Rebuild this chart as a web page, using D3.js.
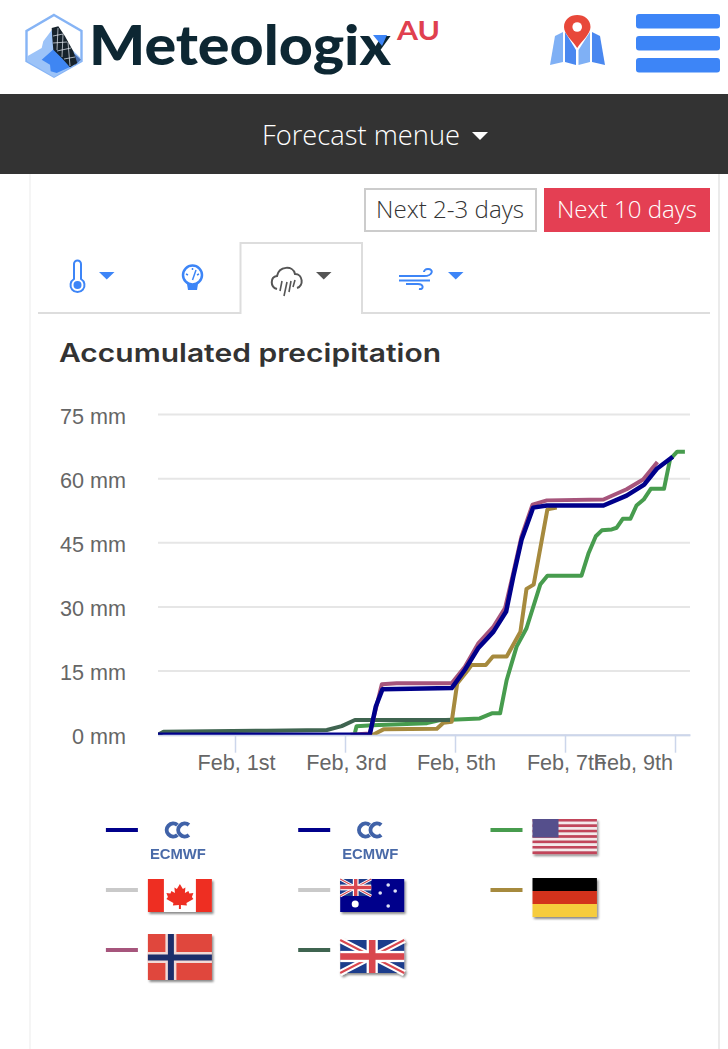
<!DOCTYPE html>
<html lang="en">
<head>
    <meta charset="UTF-8">
    <title>Accumulated precipitation</title>
    <script src="https://cdn.jsdelivr.net/npm/d3@7"></script>
    <style>
        body { margin: 0; background: #fff; }
        svg { display: block; }
    </style>
</head>
<body>
<script type="text/javascript">
    // values: day of February -> accumulated mm
    var ecmwfDays = [-0.4, 3.45, 3.56, 3.68, 4.94, 5.18, 5.42, 5.70, 5.93, 6.06, 6.21, 6.42, 6.67, 7.70, 8.12, 8.44, 8.67, 8.96];
    var ecmwfValues = [0, 0, 6.6, 10.6, 10.9, 15.2, 20.2, 24.1, 28.8, 37, 45.6, 53.1, 53.6, 53.6, 55.9, 58.5, 62.2, 65];

    var norwayDays = [3.1, 3.45, 3.67, 3.94, 4.94, 5.18, 5.42, 5.70, 5.91, 6.06, 6.21, 6.41, 6.67, 7.70, 8.12, 8.42, 8.68];
    var norwayValues = [0, 0.3, 11.8, 12.05, 12.05, 15.9, 21.3, 25.3, 29.6, 37.8, 46.4, 53.8, 54.8, 55, 57.4, 59.7, 63.8];

    var germanyDays = [3.4, 3.51, 3.70, 4.67, 4.79, 4.94, 5.04, 5.24, 5.30, 5.56, 5.69, 5.94, 6.19, 6.30, 6.43, 6.68, 6.85];
    var germanyValues = [0, 0, 1.25, 1.4, 2.8, 3.05, 12, 15.2, 16.3, 16.3, 18.3, 18.3, 24.1, 34.1, 35.1, 52.7, 53.1];

    var usDays = [3.18, 3.21, 3.5, 4.49, 4.73, 5.45, 5.67, 5.82, 5.94, 6.12, 6.30, 6.55, 6.68, 7.30, 7.43, 7.56, 7.67, 7.85, 7.94, 8.05, 8.19, 8.30, 8.43, 8.56, 8.80, 8.91, 9.04, 9.18];
    var usValues = [0.4, 2.0, 2.2, 2.7, 3.4, 3.8, 5, 5, 12.8, 20.6, 24.9, 35.1, 37.2, 37.2, 42.5, 46.4, 47.8, 48, 48.4, 50.5, 50.5, 53.6, 55, 57.5, 57.5, 64.4, 66.2, 66.2];

    var ukDays = [-0.4, -0.3, 1.58, 2.67, 2.94, 3.18, 4.91];
    var ukValues = [0, 0.7, 0.95, 1.1, 2, 3.45, 3.45];

    var yTicks = [0, 15, 30, 45, 60, 75];
    var xTicks = [1, 3, 5, 7, 9];
    var xTickLabels = ['Feb, 1st', 'Feb, 3rd', 'Feb, 5th', 'Feb, 7th', 'Feb, 9th'];

    // legend reads left to right, row by row
    var legendNames = ['ecmwf', 'ecmwf', 'us', 'canada', 'australia', 'germany', 'norway', 'uk'];
    var legendColors = ['#00008b', '#00008b', '#479c4e', '#c9c9c9', '#c9c9c9', '#a68a3e', '#a6557c', '#3f6450'];

    var svg = d3.select('body').append('svg').attr('width', 728).attr('height', 1049);
    var defs = svg.append('defs');

    // soft look of the small legend images
    var soft = defs.append('filter').attr('id', 'soft')
            .attr('x', '-10%').attr('y', '-10%').attr('width', '125%').attr('height', '130%');
    soft.append('feDropShadow').attr('dx', 1.5).attr('dy', 2).attr('stdDeviation', 1.2)
            .attr('flood-color', '#000').attr('flood-opacity', 0.45);
    soft.append('feGaussianBlur').attr('stdDeviation', 0.45);

    var blur = defs.append('filter').attr('id', 'blur');
    blur.append('feGaussianBlur').attr('stdDeviation', 0.6);

    // lines stop at the plot edge, so the zero run shows at half width
    defs.append('clipPath').attr('id', 'plot').append('rect')
            .attr('x', 158).attr('y', 400).attr('width', 532).attr('height', 334.7);

    //页面框架
    svg.append('line').attr('x1', 30).attr('x2', 30).attr('y1', 174).attr('y2', 1049)
            .attr('stroke', '#f2f2f2').attr('stroke-width', 1.5);
    svg.append('line').attr('x1', 719).attr('x2', 719).attr('y1', 174).attr('y2', 1049)
            .attr('stroke', '#e4e4e4').attr('stroke-width', 1.5);

    drawHeader();
    drawTabs();

    svg.append('text').attr('x', 59).attr('y', 362).text('Accumulated precipitation')
            .attr('font-family', 'Inter').attr('font-weight', 600).attr('font-size', 25)
            .attr('textLength', 382).attr('lengthAdjust', 'spacingAndGlyphs').attr('fill', '#333');

    //比例尺
    var xScale = d3.scaleLinear().domain([-0.4, 9.2727]).range([158, 690]);
    var yScale = d3.scaleLinear().domain([0, 75]).range([734.7, 414]);

    var yAxis = d3.axisLeft(yScale).tickValues(yTicks)
            .tickFormat(function (d) { return d + ' mm'; })
            .tickSize(-(690 - 158)).tickPadding(32);
    var yG = svg.append('g').attr('transform', 'translate(158,0)').call(yAxis);
    yG.select('.domain').remove();
    yG.selectAll('line').attr('stroke', '#e6e6e6').attr('stroke-width', 2);
    yG.selectAll('text').attr('font-family', 'Liberation Sans').attr('font-size', 21.6)
            .attr('fill', '#666').attr('dy', '0.42em');

    var xAxis = d3.axisBottom(xScale).tickValues(xTicks)
            .tickFormat(function (d, i) { return xTickLabels[i]; })
            .tickSize(18).tickSizeOuter(0).tickPadding(0);
    var xG = svg.append('g').attr('transform', 'translate(0,734.7)').call(xAxis);
    xG.select('.domain').attr('stroke', '#ccd6eb').attr('stroke-width', 2);
    xG.selectAll('line').attr('stroke', '#ccd6eb').attr('stroke-width', 1.5);
    xG.selectAll('text').attr('font-family', 'Liberation Sans').attr('font-size', 21.6)
            .attr('fill', '#666').attr('dx', 1).attr('y', 20);
    // the last label is pushed back inside the plot, so it runs into Feb, 7th
    xG.selectAll('.tick:last-of-type text').attr('text-anchor', 'end').attr('dx', -2.5);

    //折线
    var line = d3.line()
            .x(function (d) { return xScale(d[0]); })
            .y(function (d) { return yScale(d[1]); });
    var lines = svg.append('g').attr('clip-path', 'url(#plot)');

    drawLine(usDays, usValues, '#479c4e', 4);
    drawLine(germanyDays, germanyValues, '#a68a3e', 4);
    drawLine(ukDays, ukValues, '#3f6450', 4);
    drawLine(norwayDays, norwayValues, '#a6557c', 4);
    drawLine(ecmwfDays, ecmwfValues, '#00008b', 4.5);

    function drawLine(days, values, color, width) {
        lines.append('path').datum(d3.zip(days, values))
                .attr('d', line).attr('fill', 'none').attr('stroke', color)
                .attr('stroke-width', width).attr('stroke-linejoin', 'round');
    }

    // 图例里的小图,原点在图例线的高度
    var flagDrawers = {
        ecmwf: function (g) {
            var f = g.append('g').attr('filter', 'url(#blur)');
            f.append('path').attr('d', 'M29.5,-5 A6.5,6.5 0 1 0 29.5,5 M41,-5 A6.5,6.5 0 1 0 41,5')
                    .attr('fill', 'none').attr('stroke', '#3f62a8').attr('stroke-width', 4);
            f.append('text').attr('x', 30).attr('y', 28.5).attr('text-anchor', 'middle').text('ECMWF')
                    .attr('font-family', 'Liberation Sans').attr('font-weight', 700).attr('font-size', 14.5)
                    .attr('textLength', 56).attr('lengthAdjust', 'spacingAndGlyphs').attr('fill', '#4a6aa8');
        },
        us: function (g) {
            var f = g.append('g').attr('filter', 'url(#soft)');
            d3.range(13).forEach(function (i) {
                bar(f, 0, -11 + i * 2.7, 64.4, 2.7, i % 2 ? '#f5e9ea' : '#c2455a');
            });
            bar(f, 0, -11, 26, 18.5, '#54508c');
        },
        canada: function (g) {
            var f = g.append('g').attr('filter', 'url(#soft)');
            bar(f, 0, -11, 64, 33, '#fff');
            bar(f, 0, -11, 16, 33, '#ee2e22');
            bar(f, 48, -11, 16, 33, '#ee2e22');
            f.append('path').attr('d', 'M32,-6 L35,-1 L37.5,-2.5 L37,3 L40.5,1 L41.5,3.5 L45.5,3 L44,7 L45.5,9 L38.5,13 L39,15.5 L33,15 L33,19 L31,19 L31,15 L25,15.5 L25.5,13 L18.5,9 L20,7 L18.5,3 L22.5,3.5 L23.5,1 L27,3 L26.5,-2.5 L29,-1 Z')
                    .attr('fill', '#ee2e22');
        },
        australia: function (g) {
            var f = g.append('g').attr('filter', 'url(#soft)');
            bar(f, 0, -11, 64, 33, '#00008b');
            unionJack(f, -11, 31, 17);
            f.append('circle').attr('cx', 15).attr('cy', 14).attr('r', 3.5).attr('fill', '#fff');
            [[48, -5], [55, 1], [40, 3], [48, 16]].forEach(function (p) {
                f.append('circle').attr('cx', p[0]).attr('cy', p[1]).attr('r', 1.8).attr('fill', '#dfe3f5');
            });
        },
        germany: function (g) {
            var f = g.append('g').attr('filter', 'url(#soft)');
            bar(f, 0, -12, 64.4, 13, '#000');
            bar(f, 0, 1, 64.4, 13, '#d3301b');
            bar(f, 0, 14, 64.4, 13, '#f6cc3d');
        },
        norway: function (g) {
            var f = g.append('g').attr('filter', 'url(#soft)');
            bar(f, 0, -16, 64, 46, '#e0473c');
            bar(f, 17.5, -16, 11, 46, '#f1d9d6');
            bar(f, 0, 2, 64, 11, '#f1d9d6');
            bar(f, 20, -16, 6, 46, '#1d2f6b');
            bar(f, 0, 4.5, 64, 6, '#1d2f6b');
        },
        uk: function (g) {
            unionJack(g.append('g').attr('filter', 'url(#soft)'), -10, 64, 33);
        }
    };

    function unionJack(g, top, w, h) {
        bar(g, 0, top, w, h, '#1f3d8c');
        var cross = 'M0,' + top + ' L' + w + ',' + (top + h) + ' M' + w + ',' + top + ' L0,' + (top + h);
        g.append('path').attr('d', cross).attr('stroke', '#fff').attr('stroke-width', h * 0.18);
        g.append('path').attr('d', cross).attr('stroke', '#d9474f').attr('stroke-width', h * 0.06);
        bar(g, w / 2 - h * 0.17, top, h * 0.34, h, '#fff');
        bar(g, 0, top + h / 2 - h * 0.17, w, h * 0.34, '#fff');
        bar(g, w / 2 - h * 0.1, top, h * 0.2, h, '#d9474f');
        bar(g, 0, top + h / 2 - h * 0.1, w, h * 0.2, '#d9474f');
    }

    function bar(g, x, y, w, h, color) {
        g.append('rect').attr('x', x).attr('y', y).attr('width', w).attr('height', h).attr('fill', color);
    }

    //图例
    var legendCol = d3.scalePoint().domain([0, 1, 2]).range([105.9, 490.5]);
    var legendRow = d3.scalePoint().domain([0, 1, 2]).range([830, 950]);
    legendNames.forEach(function (name, i) {
        var col = i % 3, row = Math.floor(i / 3);
        var lx = legendCol(col), ly = legendRow(row);
        svg.append('line').attr('x1', lx).attr('x2', lx + 32).attr('y1', ly).attr('y2', ly)
                .attr('stroke', legendColors[i]).attr('stroke-width', 4);
        var g = svg.append('g').attr('transform', 'translate(' + (lx + 42) + ',' + ly + ')');
        flagDrawers[name](g);
    });

    function drawHeader() {
        var logo = svg.append('g');
        logo.append('path').attr('d', 'M54,15 L81.5,31 L81.5,61 L54,76.5 L26.5,61 L26.5,31 Z')
                .attr('fill', '#fff').attr('stroke', '#86b4f5').attr('stroke-width', 2.4);
        logo.append('path').attr('d', 'M53.3,28 L43.3,41.3 L41.7,48 L27.3,56.3 L27.3,61.3 L54,77 L80.7,61.3 L80.7,58 L63.3,41.3 Z')
                .attr('fill', '#9cc3f8');
        logo.append('path').attr('d', 'M70,49.7 L81,59.7 L75,65.3 Z').attr('fill', '#4a70b0');
        logo.append('path').attr('d', 'M41.7,59.7 L55,48 L71.7,66.3 L56.7,73 L50.7,71.3 L50,64.7 Z').attr('fill', '#3f86f3');
        logo.append('path').attr('d', 'M51.7,28 L58.3,26.3 L65,36.3 L73.3,51.3 L77.3,63 L70,67.3 L61.7,58 L53.3,49.7 L52.3,38 Z')
                .attr('fill', '#16222b');
        logo.append('path').attr('d', 'M53,36 L63,34 M53,43 L67,42 M57,51 L71,48 M64,59 L75,57 M58,28 L57,50 M63,34 L62,57 M68,42 L70,66')
                .attr('fill', 'none').attr('stroke', '#e8eef6').attr('stroke-width', 0.7);

        svg.append('text').attr('x', 89).attr('y', 65).text('Meteologix')
                .attr('font-family', 'Lato').attr('font-weight', 900).attr('font-size', 56)
                .attr('textLength', 302).attr('lengthAdjust', 'spacingAndGlyphs').attr('fill', '#0d2733');
        svg.append('path').attr('d', 'M373,35 L387,35 L382,46 Z').attr('fill', '#3d85f7');
        svg.append('text').attr('x', 397).attr('y', 40).text('AU')
                .attr('font-family', 'Lato').attr('font-weight', 700).attr('font-size', 27)
                .attr('textLength', 43).attr('lengthAdjust', 'spacingAndGlyphs').attr('fill', '#e0404f');

        //地图图标
        svg.append('path').attr('d', 'M555,36 L563,32 L563,62 L550,65 Z').attr('fill', '#7fb0f5');
        svg.append('path').attr('d', 'M565,32 L576,50 L576,65 L565,62 Z').attr('fill', '#4a88f0');
        svg.append('path').attr('d', 'M578.5,50 L590,32 L590,62 L578.5,65 Z').attr('fill', '#7fb0f5');
        svg.append('path').attr('d', 'M592,32 L600,36 L605,65 L592,62 Z').attr('fill', '#4a88f0');
        svg.append('path').attr('d', 'M577.2,48 C572,40 564,34 564,27 C564,19.5 570,15 577.2,15 C584.5,15 590.5,19.5 590.5,27 C590.5,34 582.5,40 577.2,48 Z')
                .attr('fill', '#e8483a');
        svg.append('circle').attr('cx', 577.2).attr('cy', 27).attr('r', 4.8).attr('fill', '#fff');

        [14, 36, 58].forEach(function (y) {
            svg.append('rect').attr('x', 636).attr('y', y).attr('width', 84).attr('height', 14.5)
                    .attr('rx', 3).attr('fill', '#3d85f7');
        });

        svg.append('rect').attr('x', 0).attr('y', 94).attr('width', 728).attr('height', 80).attr('fill', '#333');
        svg.append('text').attr('x', 262).attr('y', 145).text('Forecast menue')
                .attr('font-family', 'Open Sans').attr('font-weight', 300).attr('font-size', 27)
                .attr('textLength', 198).attr('lengthAdjust', 'spacingAndGlyphs').attr('fill', '#fff');
        svg.append('path').attr('d', 'M472,132 L488,132 L480,140 Z').attr('fill', '#fff');

        svg.append('rect').attr('x', 365).attr('y', 189).attr('width', 171).attr('height', 42)
                .attr('fill', '#fff').attr('stroke', '#ccc').attr('stroke-width', 2);
        svg.append('text').attr('x', 376).attr('y', 218).text('Next 2-3 days')
                .attr('font-family', 'Open Sans').attr('font-weight', 300).attr('font-size', 24)
                .attr('textLength', 148).attr('lengthAdjust', 'spacingAndGlyphs').attr('fill', '#333');
        svg.append('rect').attr('x', 544).attr('y', 188).attr('width', 166).attr('height', 44).attr('fill', '#e43f53');
        svg.append('text').attr('x', 557).attr('y', 218).text('Next 10 days')
                .attr('font-family', 'Open Sans').attr('font-weight', 300).attr('font-size', 24)
                .attr('textLength', 140).attr('lengthAdjust', 'spacingAndGlyphs').attr('fill', '#fff');
    }

    function drawTabs() {
        svg.append('path').attr('d', 'M38,313 L240.5,313 L240.5,243 L362,243 L362,313 L710,313')
                .attr('fill', 'none').attr('stroke', '#ddd').attr('stroke-width', 2);

        var blue = '#3d85f7';
        //温度计
        svg.append('path').attr('d', 'M74,264 a3.5,3.5 0 0 1 7,0 L81,279 a7,7 0 1 1 -7,0 Z')
                .attr('fill', '#fff').attr('stroke', blue).attr('stroke-width', 2);
        svg.append('circle').attr('cx', 77.5).attr('cy', 285).attr('r', 4).attr('fill', blue);
        caret(99, blue);

        //气压表
        svg.append('circle').attr('cx', 192.5).attr('cy', 275).attr('r', 9.5)
                .attr('fill', '#fff').attr('stroke', blue).attr('stroke-width', 2.5);
        svg.append('path').attr('d', 'M187,284 L198,284 L197,290 L188,290 Z').attr('fill', blue);
        svg.append('path').attr('d', 'M192.5,280 L196,270 M186,274 L188,275 M192.5,268 L192.5,270 M199,274 L197,275')
                .attr('stroke', blue).attr('stroke-width', 1.5).attr('fill', 'none');

        //雨
        svg.append('path').attr('d', 'M277,289 C270,287 270,277 277,276 C279,266 293,265 295,274 C303,274 304,286 297,288')
                .attr('fill', 'none').attr('stroke', '#555').attr('stroke-width', 2);
        svg.append('path').attr('d', 'M282,281 L280,291 M287,282 L284,296 M291,281 L289,292 M295,280 L293,287')
                .attr('fill', 'none').attr('stroke', '#555').attr('stroke-width', 1.6);
        caret(316, '#555');

        //风
        svg.append('path').attr('d', 'M399,276 L424,276 C433,276 434,269 428,269 C425,269 424,271 424,272 M399,280.5 L430,280.5 M406,284 L418,284 C424,284 424,290 419,289')
                .attr('fill', 'none').attr('stroke', blue).attr('stroke-width', 2);
        caret(448, blue);
    }

    function caret(x, color) {
        svg.append('path').attr('d', 'M' + x + ',272 L' + (x + 15.5) + ',272 L' + (x + 7.75) + ',279.5 Z')
                .attr('fill', color);
    }
</script>
</body>
</html>
